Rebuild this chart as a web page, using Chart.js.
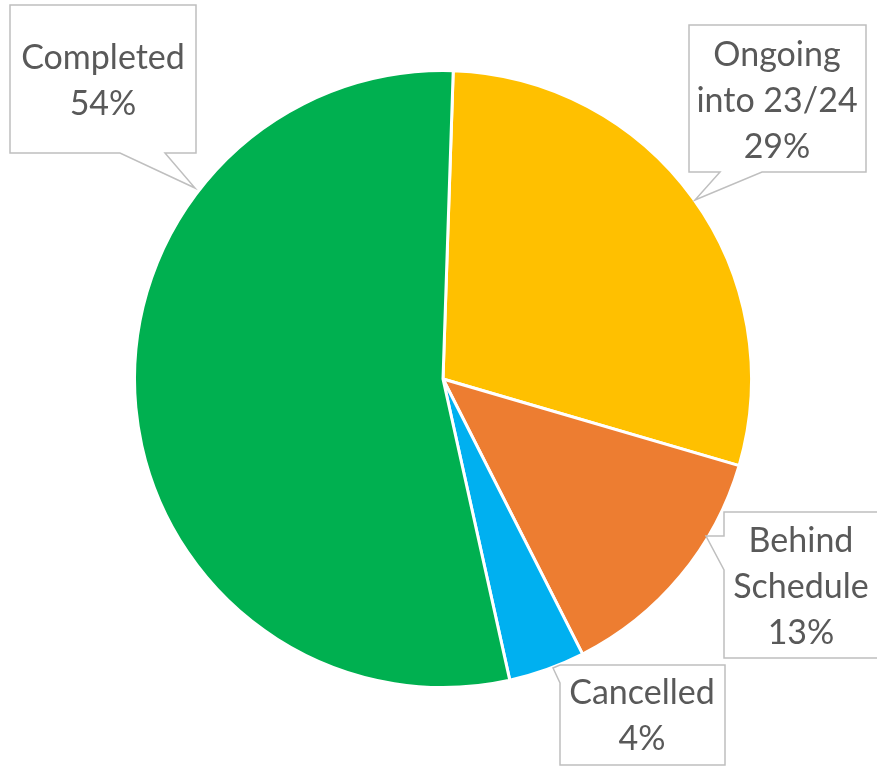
<!DOCTYPE html>
<html>
<head>
<meta charset="utf-8">
<script src="https://cdn.jsdelivr.net/npm/chart.js@4"></script>
<style>
  html, body { margin: 0; padding: 0; background: #fff; }
  #wrap { width: 877px; height: 766px; }
</style>
</head>
<body>
<div id="wrap"><canvas id="pieChart" width="877" height="766"></canvas></div>
<script>
const categories = [['Ongoing', 'into 23/24'], ['Behind', 'Schedule'], ['Cancelled'], ['Completed']];
const values = [29, 13, 4, 54];
const colors = ['#FFC000', '#ED7D31', '#00B0F0', '#00B050'];

// callout shapes (box + pointer), one per slice, same order as categories
const callouts = [
  { cx: 777, y0: 55, pts: [[689,25],[866,25],[866,172],[762,172],[695,200],[720,172],[689,172]] },
  { cx: 801, y0: 541, pts: [[724,512],[880,512],[880,658],[724,658],[724,570],[706,536],[724,536]] },
  { cx: 642, y0: 693, pts: [[560,665],[725,665],[725,765],[560,765],[560,683],[553,668]] },
  { cx: 103, y0: 58, pts: [[10,5],[196,5],[196,153],[165,153],[195,188],[120,153],[10,153]] }
];

const calloutPlugin = {
  id: 'callouts',
  afterDraw(chart) {
    const c = chart.ctx;
    const data = chart.data.datasets[0].data;
    const total = data.reduce((a, b) => a + b, 0);
    c.save();
    callouts.forEach((co, i) => {
      c.beginPath();
      co.pts.forEach((p, k) => k ? c.lineTo(p[0], p[1]) : c.moveTo(p[0], p[1]));
      c.closePath();
      c.fillStyle = '#fff';
      c.fill();
      c.strokeStyle = '#BFBFBF';
      c.lineWidth = 1.5;
      c.stroke();
      const lines = chart.data.labels[i].concat([Math.round(data[i] / total * 100) + '%']);
      c.fillStyle = '#595959';
      c.font = '34px Lato';
      c.textAlign = 'center';
      c.textBaseline = 'middle';
      lines.forEach((t, k) => c.fillText(t, co.cx, co.y0 + k * 46));
    });
    c.restore();
  }
};

const ctx = window.document.querySelector('#pieChart').getContext('2d');

new Chart(ctx, {
  type: 'pie',
  data: {
    labels: categories,
    datasets: [{
      data: values,
      backgroundColor: colors,
      borderColor: '#fff',
      borderWidth: 3
    }]
  },
  options: {
    responsive: false,
    animation: false,
    rotation: 1.9,
    layout: { padding: { left: 133, right: 124, top: 69, bottom: 77 } },
    plugins: {
      legend: { display: false },
      tooltip: { enabled: false }
    }
  },
  plugins: [calloutPlugin]
});
</script>
</body>
</html>
